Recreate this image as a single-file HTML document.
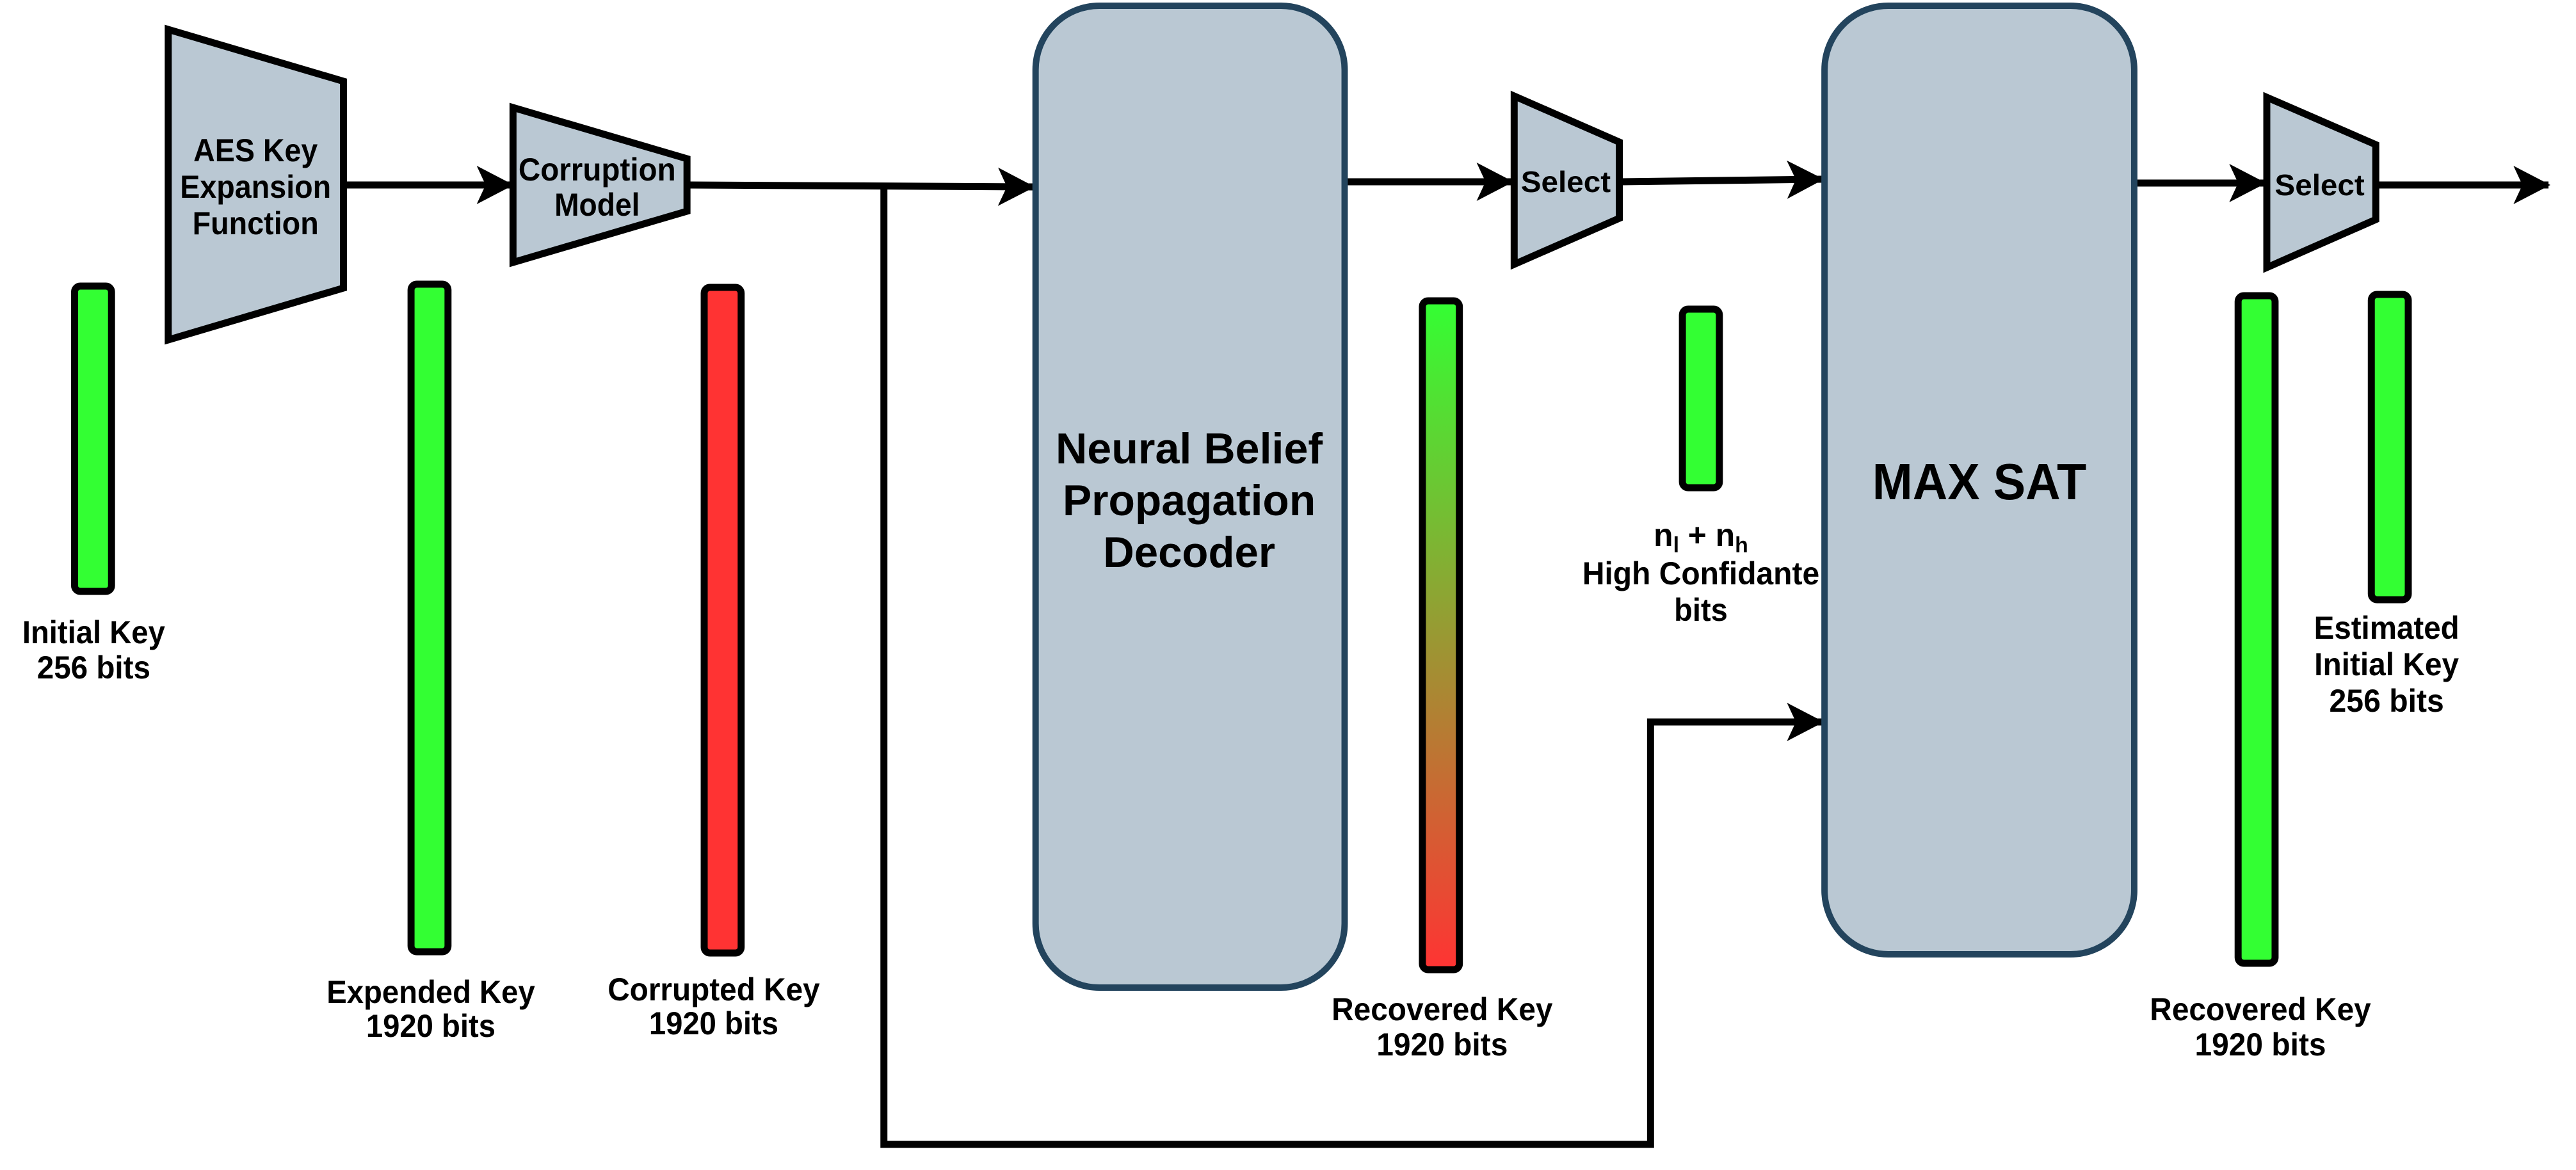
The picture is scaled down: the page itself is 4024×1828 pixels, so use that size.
<!DOCTYPE html>
<html><head><meta charset="utf-8"><style>
html,body{margin:0;padding:0;background:#fff;}
svg{display:block;}
text{font-family:"Liberation Sans",Arial,sans-serif;font-weight:bold;fill:#000;text-anchor:middle;}
</style></head><body>
<svg width="4024" height="1828" viewBox="0 0 4024 1828" xmlns="http://www.w3.org/2000/svg">
<defs>
<linearGradient id="rg" x1="0" y1="0" x2="0" y2="1">
<stop offset="0" stop-color="#33ff33"/><stop offset="1" stop-color="#ff3333"/>
</linearGradient>
<marker id="ah" viewBox="0 0 60 60" refX="55" refY="30" markerWidth="60" markerHeight="60" markerUnits="userSpaceOnUse" orient="auto">
<path d="M0,0 L58,30 L0,60 L14,30 Z" fill="#000"/>
</marker>
</defs>
<g transform="scale(0.9955,1)">
<!-- connectors -->
<g fill="none" stroke="#000" stroke-width="11">
<line x1="544" y1="289" x2="803" y2="289" marker-end="url(#ah)"/>
<line x1="1078" y1="289" x2="1621" y2="292" marker-end="url(#ah)"/>
<polyline points="1387,289 1387,1788 2590,1788 2590,1128 2859,1128" marker-end="url(#ah)"/>
<line x1="2110" y1="284" x2="2372" y2="284" marker-end="url(#ah)"/>
<line x1="2541" y1="284" x2="2859" y2="280" marker-end="url(#ah)"/>
<line x1="3349" y1="286" x2="3553" y2="286" marker-end="url(#ah)"/>
<line x1="3728" y1="289" x2="3999" y2="289" marker-end="url(#ah)"/>
</g>

<!-- trapezoids -->
<g fill="#bac8d3" stroke="#000" stroke-width="11">
<polygon points="264,46 539,127 539,450 264,531"/>
<polygon points="805,168 1078,248 1078,330 805,410"/>
<polygon points="2376,150 2541,222 2541,341 2376,413"/>
<polygon points="3557,152 3728,226 3728,343 3557,418"/>
</g>

<!-- big boxes -->
<rect x="1625" y="9" width="485" height="1534" rx="100" fill="#bac8d3" stroke="#23445d" stroke-width="10"/>
<rect x="2863" y="9" width="486" height="1482" rx="100" fill="#bac8d3" stroke="#23445d" stroke-width="10"/>

<!-- bars -->
<g stroke="#000" stroke-width="11">
<rect x="117" y="447" width="58" height="477" rx="9" fill="#33ff33"/>
<rect x="645" y="444" width="58" height="1043" rx="9" fill="#33ff33"/>
<rect x="1105" y="449" width="58" height="1040" rx="9" fill="#ff3333"/>
<rect x="2232" y="470" width="58" height="1045" rx="9" fill="url(#rg)"/>
<rect x="2640" y="483" width="58" height="279" rx="9" fill="#33ff33"/>
<rect x="3512" y="462" width="58" height="1043" rx="9" fill="#33ff33"/>
<rect x="3721" y="460" width="58" height="477" rx="9" fill="#33ff33"/>
</g>

<!-- block labels -->
<g lengthAdjust="spacingAndGlyphs">
<text x="401" y="252" font-size="50" textLength="195" lengthAdjust="spacingAndGlyphs">AES Key</text>
<text x="401" y="309" font-size="50" textLength="237" lengthAdjust="spacingAndGlyphs">Expansion</text>
<text x="401" y="366" font-size="50" textLength="198" lengthAdjust="spacingAndGlyphs">Function</text>
<text x="937" y="282" font-size="50" textLength="247" lengthAdjust="spacingAndGlyphs">Corruption</text>
<text x="937" y="337" font-size="50" textLength="134" lengthAdjust="spacingAndGlyphs">Model</text>
<text x="1866" y="724" font-size="68" textLength="419" lengthAdjust="spacingAndGlyphs">Neural Belief</text>
<text x="1866" y="805" font-size="68" textLength="397" lengthAdjust="spacingAndGlyphs">Propagation</text>
<text x="1866" y="886" font-size="68" textLength="270" lengthAdjust="spacingAndGlyphs">Decoder</text>
<text x="3106" y="780" font-size="80" textLength="336" lengthAdjust="spacingAndGlyphs">MAX SAT</text>
<text x="2457" y="300" font-size="46" textLength="141" lengthAdjust="spacingAndGlyphs">Select</text>
<text x="3640" y="305" font-size="46" textLength="141" lengthAdjust="spacingAndGlyphs">Select</text>
</g>

<!-- bar labels -->
<g font-size="50">
<text x="147" y="1005" textLength="224" lengthAdjust="spacingAndGlyphs">Initial Key</text>
<text x="147" y="1060" textLength="178" lengthAdjust="spacingAndGlyphs">256 bits</text>
<text x="676" y="1567" textLength="327" lengthAdjust="spacingAndGlyphs">Expended Key</text>
<text x="676" y="1620" textLength="203" lengthAdjust="spacingAndGlyphs">1920 bits</text>
<text x="1120" y="1563" textLength="333" lengthAdjust="spacingAndGlyphs">Corrupted Key</text>
<text x="1120" y="1616" textLength="203" lengthAdjust="spacingAndGlyphs">1920 bits</text>
<text x="2263" y="1594" textLength="347" lengthAdjust="spacingAndGlyphs">Recovered Key</text>
<text x="2263" y="1649" textLength="206" lengthAdjust="spacingAndGlyphs">1920 bits</text>
<text x="2669" y="853">n<tspan font-size="34" dy="10">l</tspan><tspan dy="-10"> + n</tspan><tspan font-size="34" dy="10">h</tspan></text>
<text x="2669" y="913" textLength="372" lengthAdjust="spacingAndGlyphs">High Confidante</text>
<text x="2669" y="970" textLength="84" lengthAdjust="spacingAndGlyphs">bits</text>
<text x="3547" y="1594" textLength="347" lengthAdjust="spacingAndGlyphs">Recovered Key</text>
<text x="3547" y="1649" textLength="206" lengthAdjust="spacingAndGlyphs">1920 bits</text>
<text x="3745" y="998" textLength="228" lengthAdjust="spacingAndGlyphs">Estimated</text>
<text x="3745" y="1055" textLength="227" lengthAdjust="spacingAndGlyphs">Initial Key</text>
<text x="3745" y="1112" textLength="180" lengthAdjust="spacingAndGlyphs">256 bits</text>
</g>
</g>
</svg>
</body></html>
